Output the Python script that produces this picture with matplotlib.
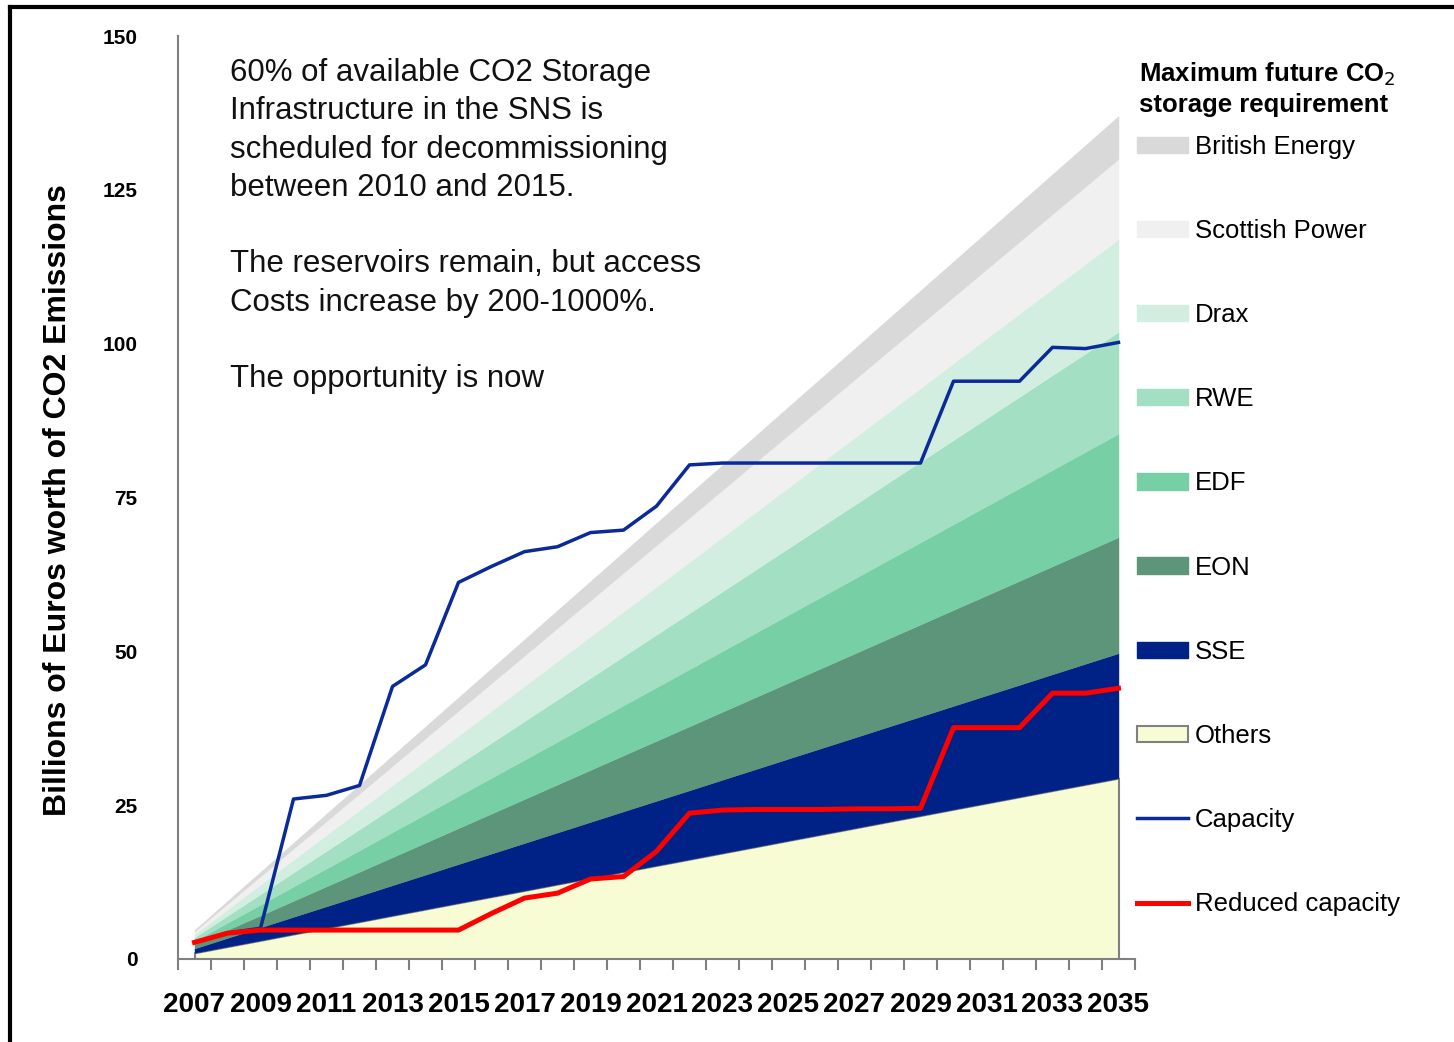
import numpy as np
import matplotlib.pyplot as plt
from matplotlib.patches import Patch
from matplotlib.lines import Line2D

plt.rcParams['font.family'] = ['Liberation Sans', 'DejaVu Sans']

# DATA
years = list(range(2007, 2036))
year_labels = [str(y) if (y - 2007) % 2 == 0 else '' for y in years]

others = [1.01, 2.03, 3.04, 4.06, 5.07, 6.08, 7.10, 8.11, 9.13, 10.14, 11.15, 12.17, 13.18, 14.20, 15.21,
          16.22, 17.24, 18.25, 19.27, 20.28, 21.29, 22.31, 23.32, 24.34, 25.35, 26.36, 27.38, 28.39, 29.40]
sse = [0.70, 1.40, 2.10, 2.80, 3.50, 4.20, 4.90, 5.60, 6.30, 7.00, 7.70, 8.40, 9.10, 9.80, 10.50,
       11.20, 11.90, 12.60, 13.30, 14.00, 14.70, 15.40, 16.10, 16.80, 17.50, 18.20, 18.90, 19.60, 20.30]
eon = [0.65, 1.30, 1.95, 2.60, 3.25, 3.90, 4.55, 5.20, 5.85, 6.50, 7.15, 7.80, 8.45, 9.10, 9.75,
       10.40, 11.05, 11.70, 12.35, 13.00, 13.65, 14.30, 14.95, 15.60, 16.25, 16.90, 17.55, 18.20, 18.85]
edf = [0.58, 1.16, 1.74, 2.32, 2.90, 3.48, 4.06, 4.64, 5.22, 5.80, 6.38, 6.96, 7.54, 8.12, 8.70,
       9.28, 9.86, 10.44, 11.02, 11.60, 12.18, 12.76, 13.34, 13.92, 14.50, 15.08, 15.66, 16.24, 16.82]
rwe = [0.57, 1.14, 1.71, 2.28, 2.85, 3.42, 3.99, 4.56, 5.13, 5.70, 6.27, 6.84, 7.41, 7.98, 8.55,
       9.12, 9.69, 10.26, 10.83, 11.40, 11.97, 12.54, 13.11, 13.68, 14.25, 14.82, 15.39, 15.96, 16.53]
drax = [0.52, 1.04, 1.56, 2.08, 2.60, 3.12, 3.64, 4.16, 4.68, 5.20, 5.72, 6.24, 6.76, 7.28, 7.80,
        8.32, 8.84, 9.36, 9.88, 10.40, 10.92, 11.44, 11.96, 12.48, 13.00, 13.52, 14.04, 14.56, 15.08]
scottish = [0.45, 0.90, 1.35, 1.80, 2.25, 2.70, 3.15, 3.60, 4.05, 4.50, 4.95, 5.40, 5.85, 6.30, 6.75,
            7.20, 7.65, 8.10, 8.55, 9.00, 9.45, 9.90, 10.35, 10.80, 11.25, 11.70, 12.15, 12.60, 13.05]
british = [0.24, 0.48, 0.72, 0.96, 1.20, 1.44, 1.68, 1.92, 2.16, 2.40, 2.64, 2.88, 3.12, 3.36, 3.60,
           3.84, 4.08, 4.32, 4.56, 4.80, 5.04, 5.28, 5.52, 5.76, 6.00, 6.24, 6.48, 6.72, 6.96]

capacity = [2.7, 4.2, 5.0, 26.0, 26.6, 28.2, 44.3, 47.8, 61.2, 63.8, 66.2, 67.0, 69.3, 69.7, 73.6,
            80.3, 80.6, 80.6, 80.6, 80.6, 80.6, 80.6, 80.6, 93.9, 93.9, 93.9, 99.4, 99.2, 100.2]
reduced = [2.7, 4.2, 4.7, 4.7, 4.7, 4.7, 4.7, 4.7, 4.7, 7.4, 9.9, 10.7, 13.0, 13.4, 17.5,
           23.7, 24.2, 24.3, 24.3, 24.3, 24.4, 24.4, 24.5, 37.6, 37.6, 37.6, 43.2, 43.2, 44.0]

layers = [('Others', others, '#F8FCD4'),
          ('SSE', sse, '#002287'),
          ('EON', eon, '#5D957A'),
          ('EDF', edf, '#77CFA6'),
          ('RWE', rwe, '#A2DFC3'),
          ('Drax', drax, '#D2EEE0'),
          ('Scottish Power', scottish, '#F0F0F0'),
          ('British Energy', british, '#D9D9D9')]

text_note = ("60% of available CO2 Storage\n"
             "Infrastructure in the SNS is\n"
             "scheduled for decommissioning\n"
             "between 2010 and 2015.\n\n"
             "The reservoirs remain, but access\n"
             "Costs increase by 200-1000%.\n\n"
             "The opportunity is now")

#PLOT
W, H = 1454, 1042
fig = plt.figure(figsize=(W / 100, H / 100), dpi=100)
ax = fig.add_axes([178 / W, 1 - 959 / H, (1135 - 178) / W, (959 - 36) / H])

x = np.arange(len(years))
base = np.zeros(len(years))
for i, (name, vals, col) in enumerate(layers):
    top = base + np.array(vals)
    if name == 'Others':
        ax.fill_between(x, base, top, facecolor=col, edgecolor='#808080', linewidth=1.5, zorder=1)
    else:
        ax.fill_between(x, base, top, facecolor=col, edgecolor=col, linewidth=0.3, zorder=1 + i)
    base = top

ax.plot(x, capacity, color='#0A2A9A', linewidth=2.5, zorder=20)
ax.plot(x, reduced, color='#FF0000', linewidth=3.6, zorder=21)

ax.set_xlim(-0.5, len(years) - 0.5)
ax.set_ylim(0, 150)
ax.set_yticks([0, 25, 50, 75, 100, 125, 150])
ax.tick_params(axis='y', length=0, pad=29, labelsize=15)
for t in ax.get_yticklabels():
    t.set_fontweight('bold')

ax.set_xticks(x)
ax.set_xticklabels(year_labels, fontsize=20, fontweight='bold')
ax.set_xticks(np.arange(-0.5, len(years)), minor=True)
ax.tick_params(axis='x', which='major', length=0, pad=24)
ax.tick_params(axis='x', which='minor', length=8, width=1.5, color='#808080', direction='out')

for s in ['top', 'right']:
    ax.spines[s].set_visible(False)
for s in ['left', 'bottom']:
    ax.spines[s].set_color('#808080')
    ax.spines[s].set_linewidth(1.5)

fig.text(58 / W, 1 - 500 / H, 'Billions of Euros worth of CO2 Emissions', rotation=90,
         fontsize=23, fontweight='bold', ha='center', va='center')

fig.text(230 / W, 1 - 58 / H, text_note, fontsize=22.5, ha='left', va='top', linespacing=1.36,
         color='#111111')

# legend
fig.text(1139 / W, 1 - 60 / H, 'Maximum future CO$_2$\nstorage requirement', fontsize=18.5,
         fontweight='bold', ha='left', va='top', linespacing=1.3)

handles = [Patch(facecolor=c, edgecolor=c) for _, _, c in layers[::-1]]
handles[-1] = Patch(facecolor='#F8FCD4', edgecolor='#808080', linewidth=1.5)
labels = [n for n, _, _ in layers[::-1]]
handles += [Line2D([], [], color='#0A2A9A', linewidth=2.5),
            Line2D([], [], color='#FF0000', linewidth=3.6)]
labels += ['Capacity', 'Reduced capacity']

leg = fig.legend(handles, labels, loc='upper left', bbox_to_anchor=(1137 / W, 1 - 135 / H),
                 frameon=False, fontsize=18.5,
                 handlelength=2.0, handleheight=0.6, handletextpad=0.25,
                 labelspacing=2.34, borderpad=0, borderaxespad=0)

# frame
fig.add_artist(Line2D([10 / W, 10 / W], [0, 1 - 7 / H], color='black', linewidth=3,
                      transform=fig.transFigure))
fig.add_artist(Line2D([10 / W, 1], [1 - 7 / H, 1 - 7 / H], color='black', linewidth=3,
                      transform=fig.transFigure))

fig.savefig('out.png', dpi=100)
